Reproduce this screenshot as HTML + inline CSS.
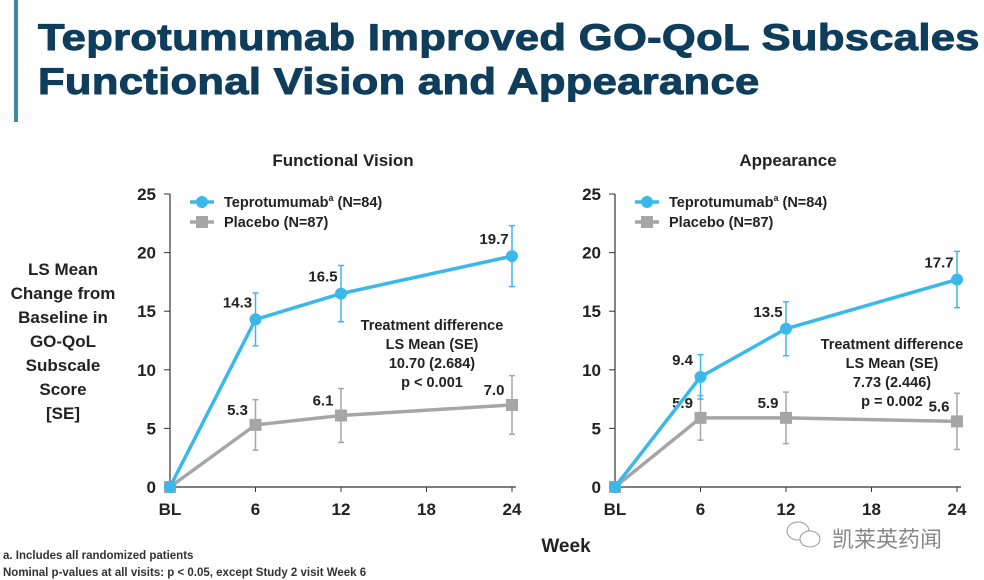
<!DOCTYPE html>
<html><head><meta charset="utf-8"><style>
body{margin:0;width:984px;height:580px;background:#fff;overflow:hidden;font-family:"Liberation Sans",Arial,sans-serif;position:relative}
.t{position:absolute;left:38px;top:16px;font-size:37px;font-weight:bold;color:#0f3d5c;line-height:44px;letter-spacing:0.3px;transform:scaleX(1.175);transform-origin:0 0;white-space:nowrap;-webkit-text-stroke:1px #0f3d5c}
.bar{position:absolute;left:14px;top:0;width:4px;height:122px;background:#3c8aa0}
</style></head><body>
<div class="bar"></div>
<div class="t">Teprotumumab Improved GO-QoL Subscales<br>Functional Vision and Appearance</div>
<svg id="s" width="984" height="580" style="position:absolute;left:0;top:0" font-family="Liberation Sans, Arial, sans-serif">
<g font-size="17" font-weight="bold" fill="#222" text-anchor="middle">
<text x="63" y="275">LS Mean</text><text x="63" y="299">Change from</text><text x="63" y="323">Baseline in</text><text x="63" y="347">GO-QoL</text><text x="63" y="371">Subscale</text><text x="63" y="395">Score</text><text x="63" y="419">[SE]</text>
</g>
<text x="566" y="552" font-size="19" font-weight="bold" fill="#222" text-anchor="middle">Week</text>
<text x="3" y="559" font-size="11.5" font-weight="bold" fill="#333">a. Includes all randomized patients</text>
<text x="3" y="576" font-size="11.5" font-weight="bold" fill="#333">Nominal p-values at all visits:  p &lt; 0.05, except Study 2 visit Week 6</text>
<g><ellipse cx="798" cy="531" rx="11" ry="9" fill="none" stroke="#999"/><ellipse cx="810" cy="539" rx="10" ry="8" fill="#fff" stroke="#999"/>
<text x="832" y="547" font-size="22" fill="#888" font-family="Liberation Sans, Noto Sans CJK SC, sans-serif">凯莱英药闻</text></g>
</svg>
<script>
const weeks=["BL","6","12","18","24"];
const xWeeks=[0,6,12,24];
const fvTep=[0,14.3,16.5,19.7], fvTepSE=[0,2.25,2.4,2.6];
const fvPla=[0,5.3,6.1,7.0], fvPlaSE=[0,2.15,2.3,2.5];
const apTep=[0,9.4,13.5,17.7], apTepSE=[0,1.9,2.3,2.4];
const apPla=[0,5.9,5.9,5.6], apPlaSE=[0,1.9,2.2,2.4];
const yTicks=[0,5,10,15,20,25];
const svg=document.getElementById('s');const NS='http://www.w3.org/2000/svg';
function el(t,a,p){const e=document.createElementNS(NS,t);for(const k in a)e.setAttribute(k,a[k]);(p||svg).appendChild(e);return e;}
function chart(x0,title,tep,tepSE,pla,plaSE,note,nm){
 const g=el('g',{});
 
 
 const X=w=>x0+w/24*342, Y=v=>487-v/25*293;
 const tt=el('text',{x:X(12)+2,y:166,'font-size':17,'font-weight':'bold',fill:'#222','text-anchor':'middle'},g);tt.textContent=title;
 
 
 el('line',{x1:x0,y1:Y(25),x2:x0,y2:Y(0),stroke:'#333','stroke-width':1.2},g);
 el('line',{x1:x0,y1:Y(0),x2:X(24)+4,y2:Y(0),stroke:'#333','stroke-width':1.2},g);
 yTicks.forEach(v=>{el('line',{x1:x0-6,y1:Y(v),x2:x0,y2:Y(v),stroke:'#333'},g);
  const t=el('text',{x:x0-14,y:Y(v)+6,'font-size':17,'font-weight':'bold',fill:'#222','text-anchor':'end'},g);t.textContent=v;
  
  });
 weeks.forEach((w,i)=>{const xv=i*6;el('line',{x1:X(xv),y1:Y(0),x2:X(xv),y2:Y(0)+5,stroke:'#333'},g);
  const t=el('text',{x:X(xv),y:515,'font-size':17,'font-weight':'bold',fill:'#222','text-anchor':'middle'},g);t.textContent=w;
  
  });
 function series(vals,se,col,sq,name,lo){
  const sg=el('g',{},g);
  
  
  el('polyline',{points:xWeeks.map((w,i)=>X(w)+','+Y(vals[i])).join(' '),fill:'none',stroke:col,'stroke-width':3.5},sg);
  xWeeks.forEach((w,i)=>{
   if(se[i]>0){el('line',{x1:X(w),y1:Y(vals[i]-se[i]),x2:X(w),y2:Y(vals[i]+se[i]),stroke:col,'stroke-width':1.5},sg);
    [vals[i]-se[i],vals[i]+se[i]].forEach(v=>el('line',{x1:X(w)-3,y1:Y(v),x2:X(w)+3,y2:Y(v),stroke:col,'stroke-width':1.5},sg));
    const t=el('text',{x:X(w)-18,y:Y(vals[i])-lo,'font-size':15,'font-weight':'bold',fill:'#222','text-anchor':'middle'},sg);t.textContent=vals[i].toFixed(1);
    
    }
   const m=sq?el('rect',{x:X(w)-6,y:Y(vals[i])-6,width:12,height:12,fill:col},sg):el('circle',{cx:X(w),cy:Y(vals[i]),r:6,fill:col},sg);
   
   
  });
 }
 series(pla,plaSE,'#a6a6a6',true,'placebo-series',10);
 series(tep,tepSE,'#3ab8ea',false,'teprotumumab-series',12);
 const lg=el('g',{},g);
 
 
 el('line',{x1:x0+20,y1:202,x2:x0+44,y2:202,stroke:'#3ab8ea','stroke-width':3.5},lg);el('circle',{cx:x0+32,cy:202,r:6,fill:'#3ab8ea'},lg);
 el('line',{x1:x0+20,y1:222,x2:x0+44,y2:222,stroke:'#a6a6a6','stroke-width':3.5},lg);el('rect',{x:x0+26,y:216,width:12,height:12,fill:'#a6a6a6'},lg);
 let t=el('text',{x:x0+54,y:207,'font-size':14.5,'font-weight':'bold',fill:'#222'},lg);t.innerHTML='Teprotumumab<tspan font-size="9" dy="-6">a</tspan><tspan dy="6"> (N=84)</tspan>';
 t=el('text',{x:x0+54,y:227,'font-size':14.5,'font-weight':'bold',fill:'#222'},lg);t.textContent='Placebo (N=87)';
 note.forEach((s,i)=>{const n=el('text',{x:note.cx,y:note.y+i*19,'font-size':14.5,'font-weight':'bold',fill:'#222','text-anchor':'middle'},g);n.textContent=s;
  
  });
}
const n1=["Treatment difference","LS Mean (SE)","10.70 (2.684)","p < 0.001"];n1.cx=432;n1.y=330;
const n2=["Treatment difference","LS Mean (SE)","7.73 (2.446)","p = 0.002"];n2.cx=892;n2.y=349;
chart(170,"Functional Vision",fvTep,fvTepSE,fvPla,fvPlaSE,n1,'functional-vision-chart');
chart(615,"Appearance",apTep,apTepSE,apPla,apPlaSE,n2,'appearance-chart');
</script>
</body></html>
